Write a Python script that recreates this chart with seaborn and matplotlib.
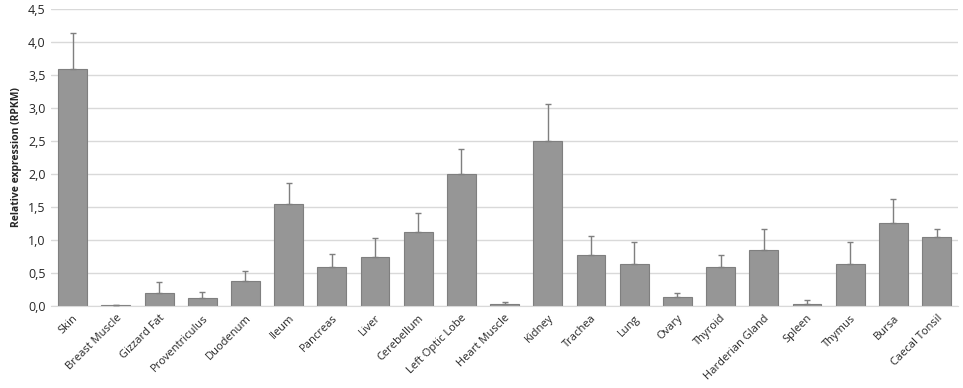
import seaborn as sns
import pandas as pd
import numpy as np
import matplotlib.pyplot as plt
from matplotlib.ticker import FuncFormatter

tissues = ['Skin', 'Breast Muscle', 'Gizzard Fat', 'Proventriculus', 'Duodenum', 'Ileum',
           'Pancreas', 'Liver', 'Cerebellum', 'Left Optic Lobe', 'Heart Muscle', 'Kidney',
           'Trachea', 'Lung', 'Ovary', 'Thyroid', 'Harderian Gland', 'Spleen', 'Thymus',
           'Bursa', 'Caecal Tonsil']
rpkm = [3.59, 0.005, 0.19, 0.11, 0.37, 1.55, 0.59, 0.74, 1.12, 1.99, 0.02, 2.50,
        0.77, 0.64, 0.13, 0.58, 0.85, 0.02, 0.63, 1.26, 1.04]
err = [0.55, 0.01, 0.17, 0.10, 0.16, 0.31, 0.20, 0.28, 0.28, 0.39, 0.04, 0.56,
       0.29, 0.32, 0.07, 0.19, 0.32, 0.06, 0.33, 0.36, 0.13]

df = pd.DataFrame({'tissue': tissues, 'rpkm': rpkm, 'err': err})

sns.set_style('white')
plt.rcParams['font.family'] = ['Open Sans', 'DejaVu Sans']

fig, ax = plt.subplots(figsize=(9.63, 3.88), dpi=100)
fig.subplots_adjust(left=0.053, right=0.995, bottom=0.212, top=0.977)

sns.barplot(data=df, x='tissue', y='rpkm', color='#969696', saturation=1,
            width=0.67, edgecolor='#7f7f7f', linewidth=0.8, ax=ax, zorder=2)
ax.errorbar(np.arange(len(df)), df.rpkm, yerr=[np.zeros(len(df)), df.err],
            fmt='none', ecolor='#7f7f7f', elinewidth=1, capsize=2.5, capthick=1, zorder=3)

ax.set_ylim(0, 4.5)
ax.set_xlim(-0.5, len(df) - 0.5)
ax.set_yticks(np.arange(0, 4.51, 0.5))
ax.yaxis.set_major_formatter(FuncFormatter(lambda v, p: f'{v:.1f}'.replace('.', ',')))
ax.yaxis.grid(True, color='#d9d9d9', linewidth=1, zorder=0)
ax.set_axisbelow(True)
for s in ['top', 'right', 'left']:
    ax.spines[s].set_visible(False)
ax.spines['bottom'].set_color('#d9d9d9')

ax.set_xlabel('')
ax.set_ylabel('Relative expression (RPKM)', fontsize=7.5, fontweight='bold')
ax.tick_params(axis='y', labelsize=9, length=0, pad=4)
ax.tick_params(axis='x', labelsize=8, length=0, pad=5)
plt.setp(ax.get_xticklabels(), rotation=45, ha='right', rotation_mode='anchor')

plt.savefig('out.png', dpi=100)
